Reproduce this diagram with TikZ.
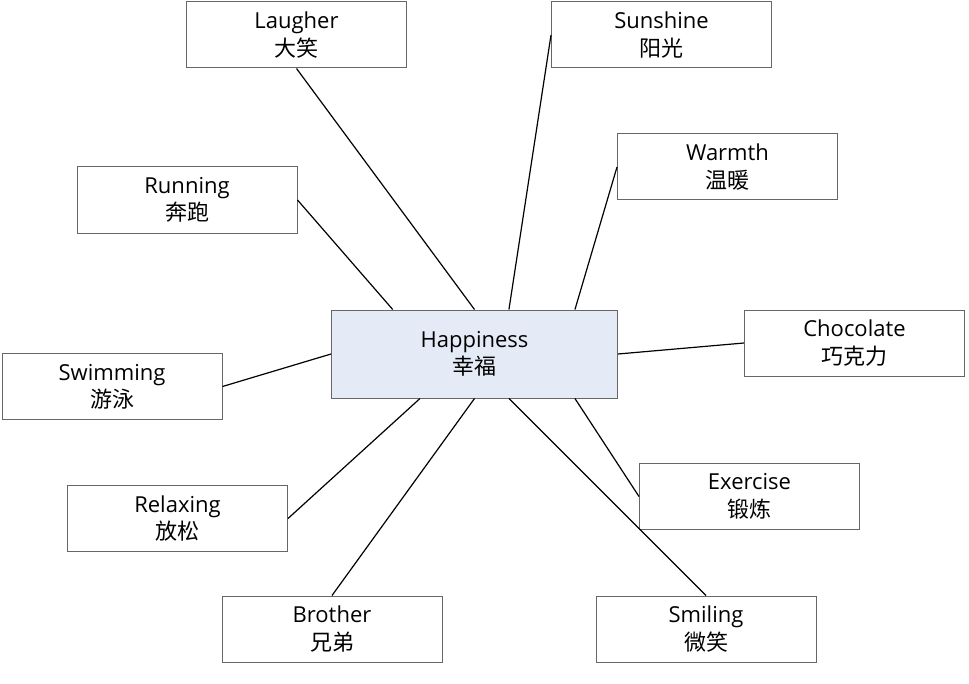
\documentclass[tikz,border=0pt]{standalone}
\usepackage{fontspec}
\setmainfont{Open Sans}
\newfontfamily\cjk{Noto Sans CJK SC}
\usetikzlibrary{calc}
\definecolor{hubfill}{RGB}{228,235,246}

\begin{document}
\begin{tikzpicture}[
    x=0.75pt, y=-0.75pt,
    box/.style={draw=black!60, line width=0.75pt, align=center, inner sep=0pt, font=\fontsize{16.5}{20.5}\selectfont, minimum width=165pt, minimum height=49.5pt},
    hub/.style={box, fill=hubfill, minimum width=214.5pt, minimum height=66pt},
    link/.style={line width=0.9pt, black}
]
\useasboundingbox (0,0) rectangle (969,684);

\node[hub] (hap) at (474.5,354) {Happiness\\\cjk 幸福};
\node[box] (laugher) at (296.5,35) {Laugher\\\cjk 大笑};
\node[box] (sunshine) at (661.5,35) {Sunshine\\\cjk 阳光};
\node[box] (warmth) at (727.5,167) {Warmth\\\cjk 温暖};
\node[box] (running) at (187,200) {Running\\\cjk 奔跑};
\node[box] (chocolate) at (854.5,343) {Chocolate\\\cjk 巧克力};
\node[box] (swimming) at (112,386.5) {Swimming\\\cjk 游泳};
\node[box] (relaxing) at (177.5,518.5) {Relaxing\\\cjk 放松};
\node[box] (exercise) at (749.5,496.5) {Exercise\\\cjk 锻炼};
\node[box] (brother) at (332,629) {Brother\\\cjk 兄弟};
\node[box] (smiling) at (706,629) {Smiling\\\cjk 微笑};

\draw[link] (laugher.south) -- (hap.north);
\draw[link] (sunshine.west) -- ($(hap.north west)!.62!(hap.north east)$);
\draw[link] (warmth.west) -- ($(hap.north west)!.85!(hap.north east)$);
\draw[link] (running.east) -- ($(hap.north west)!.215!(hap.north east)$);
\draw[link] (chocolate.west) -- (hap.east);
\draw[link] (swimming.east) -- (hap.west);
\draw[link] (relaxing.east) -- ($(hap.south west)!.31!(hap.south east)$);
\draw[link] (exercise.west) -- ($(hap.south west)!.85!(hap.south east)$);
\draw[link] (brother.north) -- (hap.south);
\draw[link] (smiling.north) -- ($(hap.south west)!.62!(hap.south east)$);
\end{tikzpicture}
\end{document}
